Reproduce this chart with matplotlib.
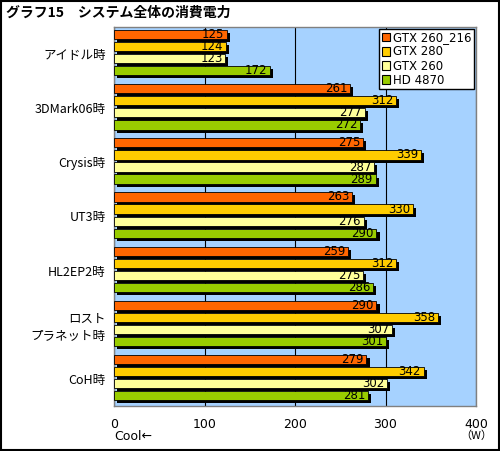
import numpy as np
import matplotlib
matplotlib.use("Agg")
import matplotlib.pyplot as plt
from matplotlib import patheffects as pe
from matplotlib.patches import Rectangle, Patch

plt.rcParams["font.family"] = ["Noto Sans CJK JP", "DejaVu Sans"]

# データ
categories = ["アイドル時", "3DMark06時", "Crysis時", "UT3時", "HL2EP2時",
              "ロスト\nプラネット時", "CoH時"]
series_names = ["GTX 260_216", "GTX 280", "GTX 260", "HD 4870"]
gtx260_216 = [125, 261, 275, 263, 259, 290, 279]
gtx280 = [124, 312, 339, 330, 312, 358, 342]
gtx260 = [123, 277, 287, 276, 275, 307, 302]
hd4870 = [172, 272, 289, 290, 286, 301, 281]
x_ticks = [0, 100, 200, 300, 400]

colores = ["#FF6600", "#FFCC00", "#FFFF99", "#99CC00"]
series = [gtx260_216, gtx280, gtx260, hd4870]

fig = plt.figure(figsize=(5.0, 4.51), dpi=100)
ax = fig.add_axes([0.228, 0.1, 0.724, 0.84])
ax.set_facecolor("#A6D2FF")

n = len(categories)
y = np.arange(n)
paso = 0.223
alto = 0.17
sombra = [pe.SimplePatchShadow(offset=(2.2, -2.2), shadow_rgbFace="black", alpha=1.0),
          pe.Normal()]

for k, (vals, col) in enumerate(zip(series, colores)):
    pos = y - 0.5 + 0.14 + k * paso
    bars = ax.barh(pos, vals, height=alto, color=col, edgecolor="black",
                   linewidth=0.6, zorder=3)
    for b in bars:
        b.set_path_effects(sombra)
    for p, v in zip(pos, vals):
        ax.text(v - 3, p, str(v), ha="right", va="center", fontsize=8.5,
                family="DejaVu Sans", zorder=4)

ax.set_xlim(0, 400)
ax.set_ylim(n - 0.5, -0.5)
ax.set_xticks(x_ticks)
ax.set_xticklabels([str(t) for t in x_ticks], fontsize=9, family="DejaVu Sans")
ax.tick_params(axis="x", length=0, pad=9)
ax.set_yticks(y)
ax.set_yticklabels(categories, fontsize=9, linespacing=1.4)
ax.tick_params(axis="y", length=0, pad=6)
ax.grid(axis="x", color="black", linewidth=0.8, zorder=1)
ax.set_axisbelow(True)
for s in ax.spines.values():
    s.set_color("#808080")
    s.set_linewidth(1.0)

handles = [Patch(facecolor=c, edgecolor="black", linewidth=0.8) for c in colores]
leg = ax.legend(handles, series_names, loc="upper right", bbox_to_anchor=(1.0, 1.0),
                prop={"family": "DejaVu Sans", "size": 8.5},
                frameon=True, fancybox=False, edgecolor="black", framealpha=1,
                handlelength=0.75, handleheight=0.75, handletextpad=0.25,
                borderpad=0.2, labelspacing=0.1, borderaxespad=0.15)
leg.set_zorder(10)

fig.text(0.012, 0.972, "グラフ15　システム全体の消費電力", fontsize=10,
         fontweight="bold", ha="left", va="center")
fig.text(0.228, 0.033, "Cool←", fontsize=9, ha="left", va="center",
         family="DejaVu Sans")
fig.text(0.952, 0.033, "（W）", fontsize=8, ha="center", va="center")

fig.patches.append(Rectangle((0.002, 0.002), 0.996, 0.996, transform=fig.transFigure,
                             fill=False, edgecolor="black", linewidth=1.5))

fig.savefig("out.png", dpi=100)
